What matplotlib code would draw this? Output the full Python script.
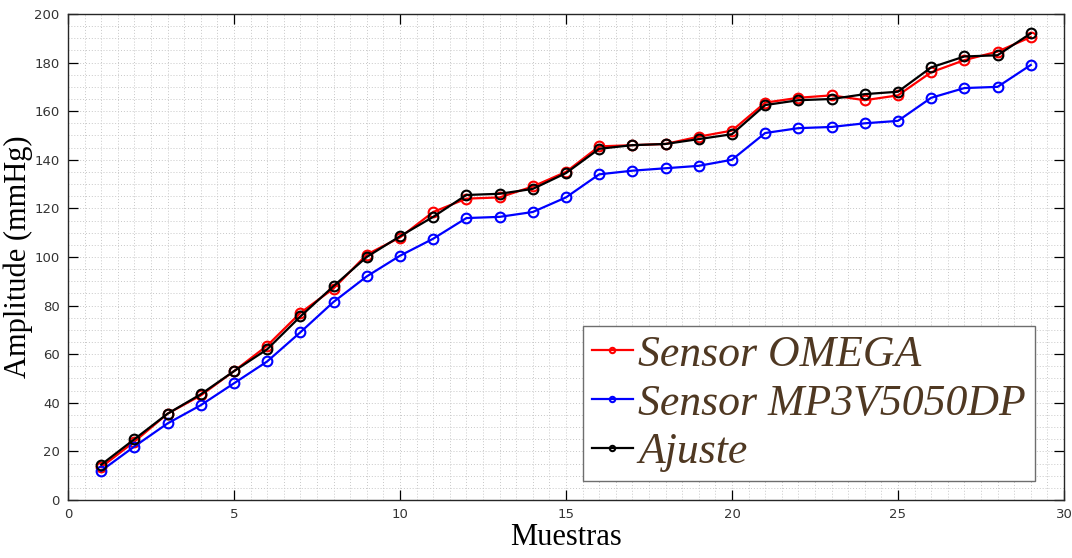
import numpy as np
import matplotlib.pyplot as plt
from matplotlib.ticker import MultipleLocator

# muestras 1..29
muestras = list(range(1, 30))

omega = [13.5, 24, 35.5, 43, 53, 63.5, 77, 87, 101, 108,
         118.5, 124, 124.5, 129, 135, 145.5, 146, 146.5, 149.5, 152,
         163.5, 165.5, 166.5, 164.5, 166.5, 176, 181, 184.5, 190.5]
mp3v = [12, 22, 31.5, 39, 48, 57, 69, 81.5, 92, 100.5,
        107.5, 116, 116.5, 118.5, 124.5, 134, 135.5, 136.5, 137.5, 140,
        151, 153, 153.5, 155, 156, 165.5, 169.5, 170, 179]
ajuste = [14.5, 25, 35.5, 43.5, 53, 62, 75.5, 88, 100, 108.5,
          116.5, 125.5, 126, 128, 134.5, 144.5, 146, 146.5, 148.5, 150.5,
          162.5, 164.5, 165, 167, 168, 178, 182.5, 183, 192]

series = [
    (omega, 'red', 'Sensor OMEGA'),
    (mp3v, 'blue', 'Sensor MP3V5050DP'),
    (ajuste, 'black', 'Ajuste'),
]

fig = plt.figure(figsize=(10.72, 5.58), dpi=100)
ax = fig.add_axes([0.0634, 0.104, 0.9291, 0.871])

for vals, col, lab in series:
    ax.plot(muestras, vals, '-o', color=col, lw=1.6, ms=7,
            mfc='none', mew=1.5, label=lab)

ax.set_xlim(0, 30)
ax.set_ylim(0, 200)
ax.xaxis.set_major_locator(MultipleLocator(5))
ax.yaxis.set_major_locator(MultipleLocator(20))
ax.xaxis.set_minor_locator(MultipleLocator(0.5))
ax.yaxis.set_minor_locator(MultipleLocator(5))

ax.grid(which='both', ls=(0, (1, 2)), color='#c8c8c8', lw=0.7)
ax.set_axisbelow(True)

ax.tick_params(which='major', direction='in', length=7, width=0.9,
               top=True, right=True, labelsize=9.5, labelcolor='#333333',
               pad=6)
ax.tick_params(which='minor', length=0)
for sp in ax.spines.values():
    sp.set_linewidth(1.0)
    sp.set_color('#262626')

ax.set_xlabel('Muestras', family='Liberation Serif', fontsize=22, labelpad=1)
ax.set_ylabel('Amplitude (mmHg)', family='Liberation Serif', fontsize=22,
              labelpad=1)

leg = ax.legend(loc='lower right', bbox_to_anchor=(0.9709, 0.039),
                prop={'family': 'Liberation Serif', 'style': 'italic',
                      'size': 31.5},
                fancybox=False, framealpha=1, edgecolor='#6e6e6e',
                handlelength=0.95, handletextpad=0.12, borderpad=0.2,
                labelspacing=0.2, borderaxespad=0, markerscale=0.55)
leg.get_frame().set_linewidth(1.0)
for t in leg.get_texts():
    t.set_color('#4f3822')

fig.savefig('out.png', dpi=100)
